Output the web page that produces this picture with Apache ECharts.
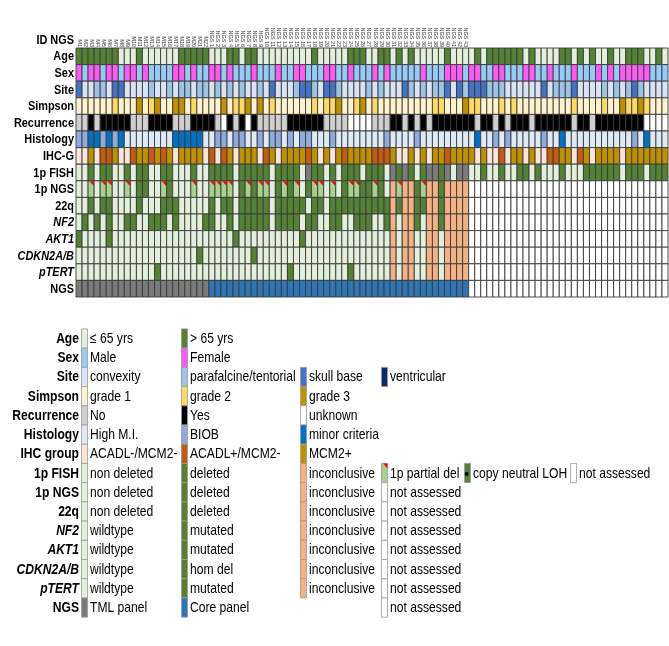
<!DOCTYPE html>
<html><head><meta charset="utf-8">
<script src="https://cdn.jsdelivr.net/npm/echarts@6/dist/echarts.min.js"></script>
<style>html,body{margin:0;padding:0;background:#fff}#c{width:669px;height:646px}</style>
</head><body><div id="c"></div>
<script>
// ---------- DATA ----------
const rowNames = ['Age','Sex','Site','Simpson','Recurrence','Histology','IHC-G','1p FISH','1p NGS','22q','NF2','AKT1','CDKN2A/B','pTERT','NGS'];
const italicRows = ['NF2','AKT1','CDKN2A/B','pTERT'];
const idTitle = 'ID NGS';
const idLabels = [];
for (let i = 1; i <= 22; i++) idLabels.push('M' + i);
for (let i = 1; i <= 43; i++) idLabels.push('NGS ' + i);
for (let i = 0; i < 33; i++) idLabels.push('');

// one code per sample (98 samples), spaces are only for readability
const ageRow   = "DDDDDDD LLL D LLLLLL DDDDD LLL DD L DD LLLLLLLLL D LLLLL DDD LL DD L D L D LLLLL D LLLL D L DDDDDD L D LLLL DD L D L D LL D LL DDD LL D L";
const sexRow   = "FMFFMFFMFFMFMMMMFFMFMMFFMFM MMFMMMFMMFFMMMFFMMFMMMFMFMMMMMFMMMFFFMF FMMFFMMMFFMMFMMMFMMMFMFMFFFFFMMM";
const siteRow  = "sccppcsscccc pccpcppcppcpcpc pccpcscccpssp csspccccpcpccc spcpcppscsps ssppp cccccc s c ppp s cccc p c p c p s p cccc";
const simpRow  = "111111211131231133121111312 2 3 1 3 1 2 111111 2 1 2 2 3 1 1 2 3 1 2 111111111 2 2 1 1 1 3 2 2 111 2 1 2 111111111 2 1111 2 11 3 2 2 3 2 111";
const recRow   = "NN Y N YYYYY NNN YYYY NNN YYYY N U Y N Y U Y NNNNN YYYYYY NNNN UUUU NNN YY N Y N Y N YYYYYYY N YY N Y N YYY N YYYYYY N YY N YYYYYYYY UUUU";
const histRow  = "BBmmBmBm HHHHHHHH mmmmm HH BB H B BHHBHBBHBHBBHHHB HHHHHHHH B HHHH B HHHHHHHHH mHHBHB HHHHH B HH m HHHHHHHHHHH B H m HHH";
const ihcRow   = "aacabbcaabccbcbcaccccababca cccab caccc cbcac acbcc ccbbb caaca caccb cccc acaab accac aabbc cabca cccca ccccccc";
const fishRow  = "nndnd dnndn ddnnd dnnnd nnddd dn ddddd ndddd ngddn dnddd ndddn gdgdn dggdg ngg nndnn dnndd ndnnn dnnnd ddddd ndddn ddd";
const ngs1pRow = "nnPnP PnnPn ddnnP dnnnP nnPPP Pn dPdPP ndPdP ndPPn PndPP ddPdn iPiid Piidi iii xxxxxxxxxxxxxxxxxxxxxxxxxxxxxxxxx";
const q22Row   = "nndnd dnnnn dnnnd ddnnn nndnd dn ddddd ndddd dnddn ddddd ddddd idiid diidi iii xxxxxxxxxxxxxxxxxxxxxxxxxxxxxxxxx";
const nf2Row   = "ndndn dnndd nnddd ndnnn nddnn dn ddddd ndddd nddnn ddnnd ddnnd iniid niidi iii xxxxxxxxxxxxxxxxxxxxxxxxxxxxxxxxx";
const akt1Row  = "dnnnn dnnnn nnnnn nnnnn nnnnn nd nnnnn nnnnn dnnnn nnnnn nnnnn iniin niini iii xxxxxxxxxxxxxxxxxxxxxxxxxxxxxxxxx";
const cdknRow  = "nnnnn nnnnn nnnnn nnnnn dnnnn nn nndnn nnnnn nnnnn nnnnn nnnnn iniin niini iii xxxxxxxxxxxxxxxxxxxxxxxxxxxxxxxxx";
const tertRow  = "nnnnn nnnnn nnndn nnnnn nnnnn nn nnnnn nnndn nnnnn nnndn nnnnn iniin niini iii xxxxxxxxxxxxxxxxxxxxxxxxxxxxxxxxx";
const ngsRow   = "TTTTTTTTTTTTTTTTTTTTTT CCCCCCCCCCCCCCCCCCCCCCCCCCCCCCCCCCCCCCCCCCC xxxxxxxxxxxxxxxxxxxxxxxxxxxxxxxxx";
const rowCodes = [ageRow,sexRow,siteRow,simpRow,recRow,histRow,ihcRow,fishRow,ngs1pRow,q22Row,nf2Row,akt1Row,cdknRow,tertRow,ngsRow]
  .map(s => s.replace(/ /g,'').split(''));

// legend: row labels and entries [code, text, slot]
const legendLabels = ['Age','Sex','Site','Simpson','Recurrence','Histology','IHC group','1p FISH','1p NGS','22q','NF2','AKT1','CDKN2A/B','pTERT','NGS'];
const legendEntries = [
  [['L','≤ 65 yrs',0],['D','> 65 yrs',1]],
  [['M','Male',0],['F','Female',1]],
  [['c','convexity',0],['p','parafalcine/tentorial',1],['s','skull base',2],['v','ventricular',3]],
  [['1','grade 1',0],['2','grade 2',1],['3','grade 3',2]],
  [['N','No',0],['Y','Yes',1],['U','unknown',2]],
  [['H','High M.I.',0],['B','BIOB',1],['m','minor criteria',2]],
  [['a','ACADL-/MCM2-',0],['b','ACADL+/MCM2-',1],['c','MCM2+',2]],
  [['n','non deleted',0],['d','deleted',1],['i','inconclusive',2],['P','1p partial del',3],['L','copy neutral LOH',4],['x','not assessed',5]],
  [['n','non deleted',0],['d','deleted',1],['i','inconclusive',2],['x','not assessed',3]],
  [['n','non deleted',0],['d','deleted',1],['i','inconclusive',2],['x','not assessed',3]],
  [['n','wildtype',0],['d','mutated',1],['i','inconclusive',2],['x','not assessed',3]],
  [['n','wildtype',0],['d','mutated',1],['i','inconclusive',2],['x','not assessed',3]],
  [['n','wildtype',0],['d','hom del',1],['i','inconclusive',2],['x','not assessed',3]],
  [['n','wildtype',0],['d','mutated',1],['i','inconclusive',2],['x','not assessed',3]],
  [['T','TML panel',0],['C','Core panel',1],['x','not assessed',3]]
];

// ---------- STYLE ----------
const molPal = {n:'#e2efda', d:'#548235', i:'#f4b183', P:'#a9d18e', L:'#548235', x:'#ffffff', g:'#7b7b7b'};
const palettes = [
  {L:'#e2efda', D:'#548235'},
  {M:'#99c9f7', F:'#fb5cf4'},
  {c:'#dae3f3', p:'#9dc3e6', s:'#4472c4', v:'#0e2a66'},
  {'1':'#fff2cc','2':'#ffd966','3':'#bf9000'},
  {N:'#d0cece', Y:'#000000', U:'#ffffff'},
  {H:'#deebf7', B:'#8faadc', m:'#0070c0'},
  {a:'#fbe5d6', b:'#c55a11', c:'#bf9000'},
  molPal, molPal, molPal, molPal, molPal, molPal, molPal,
  {T:'#7b7b7b', C:'#2e75b6', x:'#ffffff'}
];
const FN = '"Liberation Sans",Arial,sans-serif';
const NARROW = 0.835;

const cells = [];
rowCodes.forEach((codes, r) => codes.forEach((code, c) => cells.push({value:[c, r], code, r})));

function sText(text, x, y, font, align, sx) {
  return {type:'text', x, y, scaleX:sx, silent:true,
    style:{text, x:0, y:0, align, verticalAlign:'middle', font, fill:'#000'}};
}

// ---------- LEGEND (graphic) ----------
const slotX = [81.5, 181.5, 300.5, 381.5, 464.5, 570.5];
const legTop = 338.5, legStep = 19.22, swW = 6, swH = 19.2;
const graphics = [];
legendLabels.forEach((lab, i) => {
  const cy = legTop + i * legStep;
  const it = italicRows.indexOf(lab) >= 0;
  graphics.push(sText(lab, 79, cy + 0.5, (it?'italic ':'') + 'bold 14.5px ' + FN, 'right', NARROW));
  legendEntries[i].forEach(([code, txt, slot]) => {
    const x = slotX[slot], y = cy - swH/2;
    const col = palettes[i][code];
    graphics.push({type:'rect', shape:{x, y, width:swW, height:swH}, style:{fill:col, stroke:'#9a9a9a', lineWidth:0.8}});
    if (code === 'P') graphics.push({type:'polygon', shape:{points:[[x+1.5,y],[x+swW,y],[x+swW,y+5]]}, style:{fill:'#ff0000'}});
    if (code === 'L' && i === 7) graphics.push({type:'circle', shape:{cx:x+2.2, cy:cy+1, r:2}, style:{fill:'#000'}});
    graphics.push(sText(txt, x + swW + 2.5, cy + 0.5, '14.5px ' + FN, 'left', NARROW));
  });
});

// ---------- CHART ----------
const chart = echarts.init(document.getElementById('c'), null, {renderer:'canvas'});
chart.setOption({
  animation:false,
  backgroundColor:'#fff',
  grid:{left:76, top:48, width:592, height:249, containLabel:false},
  xAxis:{type:'category', data:idLabels, position:'top',
    axisLine:{show:false}, axisTick:{show:false}, splitLine:{show:false},
    axisLabel:{interval:0, rotate:90, fontSize:5.5, fontFamily:'Liberation Sans', color:'#333', margin:1}},
  yAxis:{type:'category', data:rowNames, inverse:true,
    axisLine:{show:false}, axisTick:{show:false}, splitLine:{show:false},
    axisLabel:{show:false}},
  series:[{
    type:'custom',
    data:cells.map(c => c.value),
    encode:{x:0, y:1},
    renderItem:(params, api) => {
      const cell = cells[params.dataIndex];
      const p = api.coord([api.value(0), api.value(1)]);
      const s = api.size([1, 1]);
      const w = s[0], h = s[1], x = p[0] - w/2, y = p[1] - h/2;
      const fill = palettes[cell.r][cell.code];
      const ch = [{type:'rect', shape:{x, y, width:w, height:h},
        style:{fill, stroke:'#3a3a3a', lineWidth:0.9}}];
      if (cell.code === 'P') ch.push({type:'polygon', shape:{points:[[x+w*0.2,y+0.5],[x+w-0.5,y+0.5],[x+w-0.5,y+h*0.3]]}, style:{fill:'#ff0000'}});
      if (cell.code === 'L' && cell.r === 7) ch.push({type:'circle', shape:{cx:x+w/2, cy:y+h/2, r:1.5}, style:{fill:'#000'}});
      return {type:'group', children:ch};
    }
  }]
});

// row labels of the heatmap, placed at the library's own category positions
const gridLeft = chart.convertToPixel({xAxisIndex:0}, 0) - chart.getModel().getComponent('xAxis',0).axis.getBandWidth()/2;
rowNames.forEach((name, r) => {
  const py = chart.convertToPixel({yAxisIndex:0}, r);
  const it = italicRows.indexOf(name) >= 0;
  graphics.push(sText(name, gridLeft - 2, py + 0.5, (it?'italic ':'') + 'bold 13px ' + FN, 'right', 0.84));
});
graphics.push(sText(idTitle, gridLeft - 2, 40.5, 'bold 13px ' + FN, 'right', 0.84));
chart.setOption({graphic:graphics});
</script>
</body></html>
